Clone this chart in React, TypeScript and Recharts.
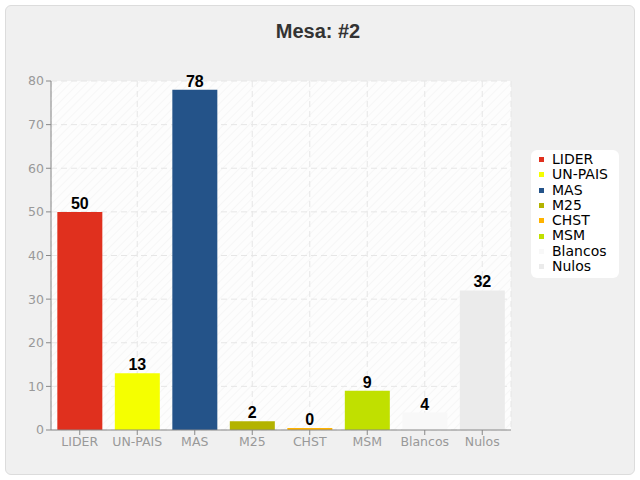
import React from "react";
import { BarChart, Bar, XAxis, YAxis, CartesianGrid, Cell, LabelList } from "recharts";

const partidos = ["LIDER", "UN-PAIS", "MAS", "M25", "CHST", "MSM", "Blancos", "Nulos"];
const votos = [50, 13, 78, 2, 0, 9, 4, 32];
const colores = ["#e0301e", "#f5ff00", "#245389", "#b3b300", "#ffb300", "#c0e000", "#f8f8f8", "#ebebeb"];
const yTicks = [0, 10, 20, 30, 40, 50, 60, 70, 80];

const data = partidos.map((name, i) => ({ name, votos: votos[i] }));

const LegendBox = () => (
  <div
    style={{
      position: "absolute",
      left: 531,
      top: 150,
      background: "#fff",
      borderRadius: 6,
      padding: "2px 6px 4px 8px",
      width: 74,
      fontFamily: "DejaVu Sans, sans-serif",
      fontSize: 14,
      lineHeight: "15.3px",
      color: "#000",
    }}
  >
    {partidos.map((p, i) => (
      <div key={p} style={{ display: "flex", alignItems: "center", height: 15.3 }}>
        <span style={{ width: 5, height: 5, background: colores[i], marginRight: 8, display: "inline-block" }} />
        <span>{p}</span>
      </div>
    ))}
  </div>
);

const App = () => {
  return (
    <div style={{ position: "relative", width: 640, height: 480, background: "#fff" }}>
      <style>{"body{margin:0}"}</style>
      <div
        style={{
          position: "absolute",
          left: 5,
          top: 5,
          width: 628,
          height: 468,
          background: "#f0f0f0",
          border: "1px solid #dcdcdc",
          borderRadius: 6,
        }}
      />
      <div
        style={{
          position: "absolute",
          top: 20,
          left: 0,
          width: 636,
          textAlign: "center",
          fontFamily: "Liberation Sans Narrow, Liberation Sans, sans-serif",
          fontWeight: "bold",
          fontSize: 20,
          color: "#333",
        }}
      >
        Mesa: #2
      </div>
      <div style={{ position: "absolute", left: 0, top: 0 }}>
        <BarChart
          width={640}
          height={480}
          data={data}
          margin={{ top: 81, right: 129, bottom: 20, left: 21 }}
          barCategoryGap="11%"
        >
          <defs>
            <pattern id="hatch" width="6" height="6" patternUnits="userSpaceOnUse" patternTransform="rotate(45)">
              <rect width="6" height="6" fill="#fdfdfd" />
              <line x1="0" y1="0" x2="0" y2="6" stroke="#f0f0f0" strokeWidth="1" />
            </pattern>
          </defs>
          <CartesianGrid stroke="#e6e6e6" strokeDasharray="6 4" fill="url(#hatch)" />
          <XAxis
            dataKey="name"
            height={30}
            stroke="#888"
            tickSize={5}
            tick={{ fill: "#999", fontSize: 12.5, fontFamily: "DejaVu Sans, sans-serif" }}
          />
          <YAxis
            width={30}
            domain={[0, 80]}
            ticks={yTicks}
            stroke="#888"
            tickSize={5}
            tick={{ fill: "#999", fontSize: 12.5, fontFamily: "DejaVu Sans, sans-serif" }}
          />
          <Bar dataKey="votos" minPointSize={2} isAnimationActive={false}>
            {data.map((d, i) => (
              <Cell key={d.name} fill={colores[i]} />
            ))}
            <LabelList
              dataKey="votos"
              position="top"
              offset={3}
              fill="#000"
              fontWeight="bold"
              fontSize={16}
              fontFamily="Liberation Sans Narrow, Liberation Sans, sans-serif"
            />
          </Bar>
        </BarChart>
      </div>
      <LegendBox />
    </div>
  );
};

export default App;
